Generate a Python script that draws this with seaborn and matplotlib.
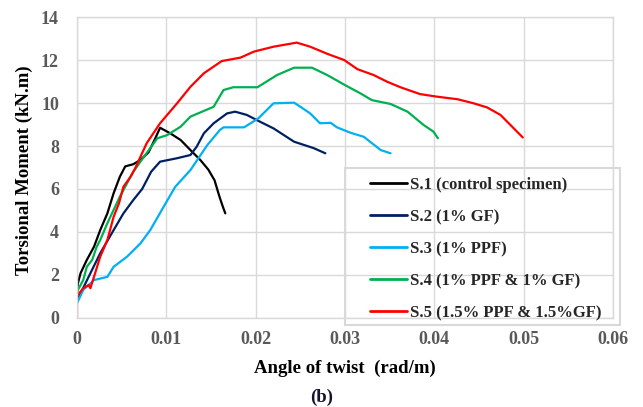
import matplotlib
matplotlib.use("Agg")
import matplotlib.pyplot as plt
import seaborn as sns
import pandas as pd
from matplotlib.patches import Rectangle

labels = ["S.1 (control specimen)", "S.2 (1% GF)", "S.3 (1% PPF)",
          "S.4 (1% PPF & 1% GF)", "S.5 (1.5% PPF & 1.5%GF)"]
colors = ["#000000", "#002060", "#00b0f0", "#00b050", "#ff0000"]

s1_x = [0, 0.0001, 0.0004, 0.0011, 0.0019, 0.0026, 0.0034, 0.0041, 0.0048, 0.0054,
        0.0063, 0.0071, 0.0080, 0.0087, 0.0093, 0.0104, 0.0116, 0.0127, 0.0138,
        0.0147, 0.0154, 0.0159, 0.0163, 0.0166]
s1_y = [1.2, 1.6, 2.07, 2.69, 3.3, 4.08, 4.86, 5.8, 6.57, 7.05,
        7.15, 7.35, 7.7, 8.3, 8.85, 8.6, 8.28, 7.81, 7.35,
        6.9, 6.4, 5.7, 5.2, 4.86]

s2_x = [0, 0.0004, 0.0015, 0.0026, 0.0041, 0.0052, 0.0063, 0.0073, 0.0083, 0.0093,
        0.0112, 0.0127, 0.0134, 0.0142, 0.0153, 0.0168, 0.0177, 0.0190, 0.0205,
        0.0220, 0.0243, 0.0265, 0.0278]
s2_y = [0.9, 1.13, 2.07, 3.0, 4.08, 4.86, 5.48, 6.0, 6.8, 7.27,
        7.43, 7.58, 7.97, 8.59, 9.06, 9.52, 9.6, 9.45, 9.13,
        8.82, 8.2, 7.9, 7.66]

s3_x = [0, 0.0007, 0.0019, 0.0034, 0.0041, 0.0056, 0.0071, 0.0082, 0.0097, 0.0110,
        0.0127, 0.0146, 0.0160, 0.0164, 0.0187, 0.0203, 0.0220, 0.0243, 0.0250,
        0.0261, 0.0272, 0.0284, 0.0291, 0.0306, 0.0321, 0.0340, 0.0351]
s3_y = [0.67, 1.29, 1.75, 1.9, 2.37, 2.84, 3.46, 4.08, 5.17, 6.1,
        6.88, 8.05, 8.75, 8.87, 8.87, 9.29, 9.99, 10.02, 9.83,
        9.52, 9.06, 9.08, 8.87, 8.62, 8.43, 7.81, 7.66]

s4_x = [0, 0.0001, 0.0007, 0.0011, 0.0017, 0.0022, 0.0026, 0.0034, 0.0041, 0.0048,
        0.0056, 0.0063, 0.0075, 0.0090, 0.0101, 0.0116, 0.0127, 0.0153, 0.0164,
        0.0175, 0.0202, 0.0224, 0.0243, 0.0263, 0.0280, 0.0300, 0.0317, 0.0330,
        0.0351, 0.0370, 0.0388, 0.0399, 0.0404]
s4_y = [1.0, 1.29, 1.75, 2.37, 2.69, 3.3, 3.62, 4.4, 5.02, 5.64,
        6.26, 6.8, 7.5, 8.36, 8.51, 8.9, 9.37, 9.83, 10.61,
        10.74, 10.74, 11.31, 11.65, 11.65, 11.31, 10.84, 10.46, 10.14,
        9.96, 9.6, 8.98, 8.67, 8.36]

s5_x = [0, 0, 0.0007, 0.0013, 0.0015, 0.0019, 0.0026, 0.0034, 0.0041, 0.0047,
        0.0052, 0.0060, 0.0065, 0.0078, 0.0093, 0.0112, 0.0127, 0.0142, 0.0162,
        0.0183, 0.0198, 0.0220, 0.0246, 0.0261, 0.0280, 0.0299, 0.0314, 0.0332,
        0.0347, 0.0362, 0.0384, 0.0403, 0.0426, 0.0444, 0.0459, 0.0474, 0.0489,
        0.0499]
s5_y = [0.0, 1.0, 1.37, 1.52, 1.37, 1.9, 2.84, 3.62, 4.7, 5.33,
        6.1, 6.57, 6.95, 8.13, 9.06, 9.99, 10.76, 11.39, 11.96,
        12.12, 12.4, 12.63, 12.82, 12.63, 12.3, 12.01, 11.58, 11.31,
        11.0, 10.74, 10.42, 10.3, 10.18, 9.99, 9.8, 9.45, 8.82,
        8.4]

series_x = [s1_x, s2_x, s3_x, s4_x, s5_x]
series_y = [s1_y, s2_y, s3_y, s4_y, s5_y]

rows = []
for lab, xs, ys in zip(labels, series_x, series_y):
    for i, (x, y) in enumerate(zip(xs, ys)):
        rows.append({"series": lab, "order": i, "x": x, "y": y})
df = pd.DataFrame(rows)

sns.set_style("white")
plt.rcParams["font.family"] = ["Liberation Serif", "DejaVu Serif"]
plt.rcParams["font.weight"] = "bold"

fig = plt.figure(figsize=(6.43, 4.07), dpi=100)
ax = fig.add_axes([77 / 643, 1 - 317.6 / 407, 536 / 643, 300.3 / 407])

sns.lineplot(data=df, x="x", y="y", hue="series", hue_order=labels,
             palette=colors, estimator=None, sort=False, units="series",
             linewidth=1.6, ax=ax, legend=False)

ax.set_xlim(0, 0.06)
ax.set_ylim(0, 14)
ax.set_xticks([0, 0.01, 0.02, 0.03, 0.04, 0.05, 0.06])
ax.set_xticklabels(["0", "0.01", "0.02", "0.03", "0.04", "0.05", "0.06"])
ax.set_yticks(range(0, 15, 2))
ax.grid(True, color="#d9d9d9", linewidth=1.0)
ax.set_axisbelow(True)
for sp in ax.spines.values():
    sp.set_color("#d9d9d9")
    sp.set_linewidth(1.0)
ax.tick_params(axis="both", length=0, labelsize=13, labelcolor="#595959")
ax.tick_params(axis="y", pad=13)
ax.tick_params(axis="x", pad=10)
for t in ax.get_xticklabels() + ax.get_yticklabels():
    t.set_fontweight("bold")

ax.set_xlabel("Angle of twist  (rad/m)", fontsize=13.5, fontweight="bold", color="black")
ax.set_ylabel("Torsional Moment (kN.m)", fontsize=13.5, fontweight="bold", color="black")
ax.xaxis.set_label_coords(0.5, -0.14)
ax.yaxis.set_label_coords(-0.083, 0.49)

fig.text(322 / 643, 1 - 397 / 407, "(b)", ha="center", va="center",
         fontsize=13.5, fontweight="bold", color="#14142e")

# legend
handles = [plt.Line2D([], [], color=c, linewidth=2.0) for c in colors]
leg = ax.legend(handles, labels, loc="upper left",
                bbox_to_anchor=((370 - 77) / 536, (317.6 - 177) / 300.3),
                frameon=False, fontsize=12, handlelength=2.2, handletextpad=0.2,
                labelspacing=0.96, borderpad=0.0, borderaxespad=0.0)
for t in leg.get_texts():
    t.set_fontweight("bold")
fig.patches.append(Rectangle((345 / 643, 1 - 325 / 407), 275 / 643, 157 / 407,
                             transform=fig.transFigure, fill=False,
                             edgecolor="#d9d9d9", linewidth=1.5))

fig.savefig("out.png", dpi=100)
